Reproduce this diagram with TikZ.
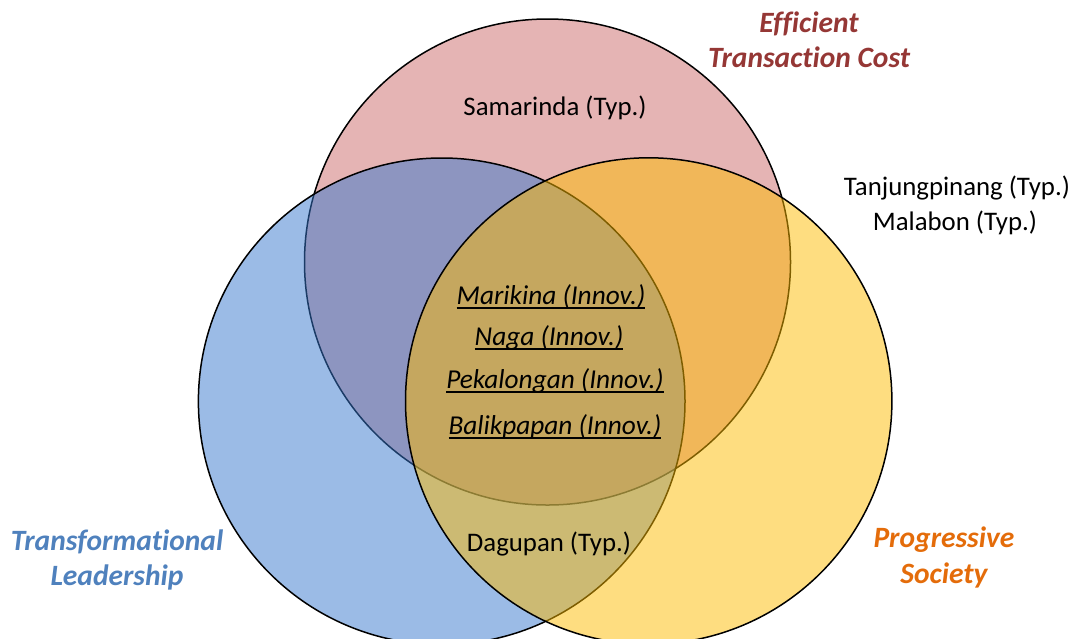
\documentclass[tikz,border=0pt]{standalone}
\usepackage{fontspec}
\setmainfont{Carlito}[Ligatures={NoCommon}]
\definecolor{setred}{RGB}{203,105,105}
\definecolor{setblue}{RGB}{55,119,205}
\definecolor{setyellow}{RGB}{253,187,1}
\definecolor{headred}{RGB}{149,55,53}
\definecolor{headblue}{RGB}{79,129,189}
\definecolor{headorange}{RGB}{228,108,10}
% underline at a fixed depth, crossing the descenders
\newcommand\cityul[1]{\setbox0\hbox{#1}\rlap{\rule[-4.5pt]{\wd0}{1.8pt}}\box0}
\begin{document}
\begin{tikzpicture}[x=1pt,y=-1pt,
  setcircle/.style={draw=black,line width=1.5pt,fill opacity=0.5},
  city/.style={inner sep=0pt,anchor=base,font=\fontsize{26.8}{31}\selectfont},
  innov/.style={inner sep=0pt,anchor=base,font=\fontsize{27.3}{31}\selectfont\itshape},
  heading/.style={inner sep=0pt,anchor=base,
    font=\fontsize{29.5}{35.5}\selectfont\bfseries\itshape}]
\useasboundingbox (0,0) rectangle (1078,638);
\clip (0,0) rectangle (1078,638);
% the three sets
\draw[setcircle,fill=setred]    (547.5,262) circle (243);
\draw[setcircle,fill=setblue]   (441.7,401.3) circle (243.3);
\draw[setcircle,fill=setyellow] (648.7,401) circle (243.2);
% set headings, one node per line
\node[heading,text=headred] (eff1) at (809,32) {Efficient};
\node[heading,text=headred] (eff2) at (809,67) {Transaction Cost};
\node[heading,text=headblue] (lead1) at (117,550) {Transformational};
\node[heading,text=headblue] (lead2) at (117,585) {Leadership};
\node[heading,text=headorange] (soc1) at (944,547) {Progressive};
\node[heading,text=headorange] (soc2) at (944,583) {Society};
% cities
\node[city] (sam) at (555,115) {Samarinda (Typ.)};
\node[city] (tan) at (957,195) {Tanjungpinang (Typ.)};
\node[city] (mal) at (955,230) {Malabon (Typ.)};
\node[city] (dag) at (549,551) {Dagupan (Typ.)};
\node[innov] (mar) at (551,304) {\cityul{Marikina (Innov.)}};
\node[innov] (nag) at (549,345) {\cityul{Naga (Innov.)}};
\node[innov] (pek) at (555,388) {\cityul{Pekalongan (Innov.)}};
\node[innov] (bal) at (555,434) {\cityul{Balikpapan (Innov.)}};
\end{tikzpicture}
\end{document}
